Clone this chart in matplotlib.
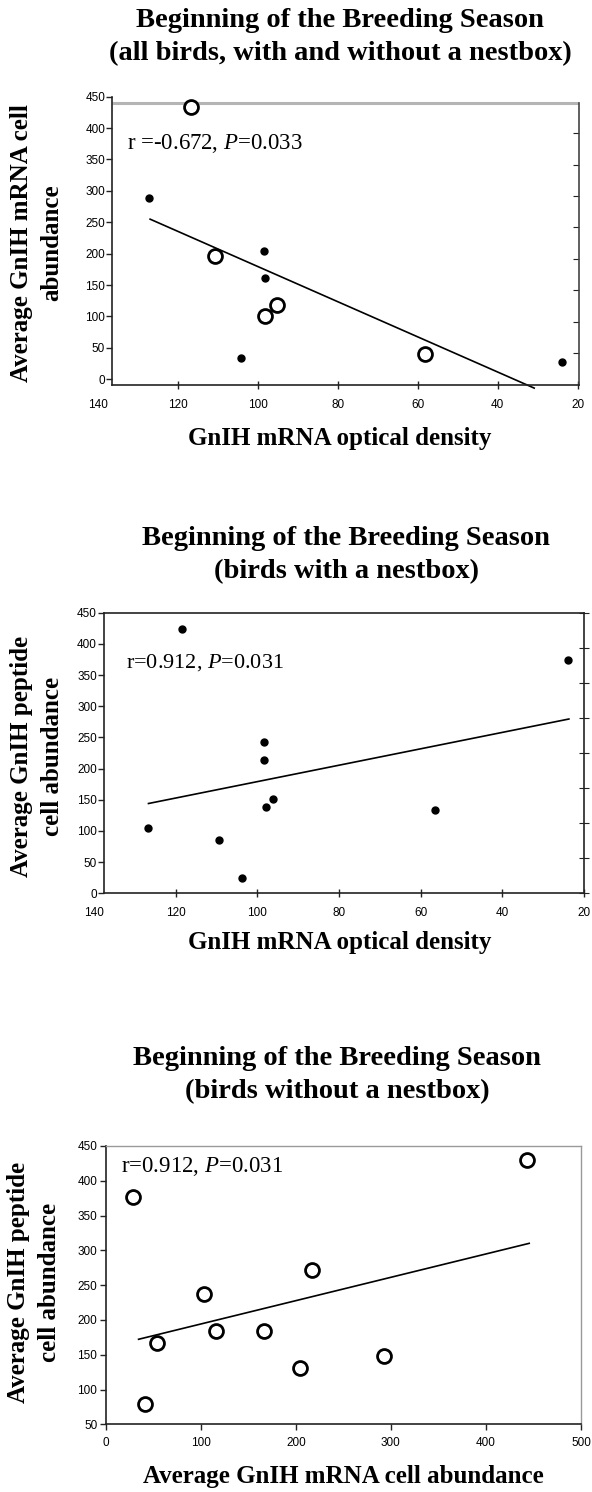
import matplotlib
matplotlib.use("Agg")
import matplotlib.pyplot as plt
import numpy as np

plt.rcParams['font.family'] = ['Liberation Sans', 'DejaVu Sans']
plt.rcParams['mathtext.fontset'] = 'custom'
plt.rcParams['mathtext.rm'] = 'Liberation Serif'
plt.rcParams['mathtext.it'] = 'Liberation Serif:italic'

# ---------------- data ----------------
# Panel 1: all birds (x = GnIH mRNA optical density, y = mRNA cell abundance)
p1_open_x = [116.8, 110.7, 98.3, 95.3, 58.3]
p1_open_y = [434, 196, 100, 119, 40]
p1_fill_x = [127.1, 98.4, 98.1, 104.1, 23.9]
p1_fill_y = [288, 205, 161, 34, 28]
p1_fit_x = [126.9, 30.9]
p1_fit_y = [255, -14]
p1_stat = "r =-0.672, $P$=0.033"

# Panel 2: birds with a nestbox
p2_x = [118.4, 23.9, 98.3, 98.3, 96.2, 98.0, 56.5, 126.9, 109.4, 103.9]
p2_y = [424, 374, 242, 214, 151, 139, 133, 105, 86, 24]
p2_fit_x = [126.7, 23.7]
p2_fit_y = [144, 279.5]
p2_stat = "r=0.912, $P$=0.031"

# Panel 3: birds without a nestbox
p3_x = [28.6, 443.5, 217.2, 103.8, 116.5, 167, 53.7, 292.8, 204, 41]
p3_y = [377, 430, 272, 237, 184, 184, 166.4, 148.2, 130.5, 78.7]
p3_fit_x = [34.6, 445.5]
p3_fit_y = [172.2, 310.1]
p3_stat = "r=0.912, $P$=0.031"

titles = ["Beginning of the Breeding Season\n(all birds, with and without a nestbox)",
          "Beginning of the Breeding Season\n(birds with a nestbox)",
          "Beginning of the Breeding Season\n(birds without a nestbox)"]
ylabels = ["Average GnIH mRNA cell\nabundance",
           "Average GnIH peptide\ncell abundance",
           "Average GnIH peptide\ncell abundance"]
xlabels = ["GnIH mRNA optical density",
           "GnIH mRNA optical density",
           "Average GnIH mRNA cell abundance"]
od_ticks = [140, 120, 100, 80, 60, 40, 20]
y_ticks_a = [0, 50, 100, 150, 200, 250, 300, 350, 400, 450]
y_ticks_c = [50, 100, 150, 200, 250, 300, 350, 400, 450]
x_ticks_c = [0, 100, 200, 300, 400, 500]

W, H = 592, 1492
fig = plt.figure(figsize=(W / 100, H / 100), dpi=100)

def px_axes(left, right, top, bottom):
    return fig.add_axes([left / W, 1 - bottom / H, (right - left) / W, (bottom - top) / H])

SERIF = 'Liberation Serif'
TICKFS = 8.5
AXCOL = '#222222'

def style_common(ax):
    ax.tick_params(labelsize=TICKFS, colors=AXCOL, labelcolor='black', width=1)
    for s in ax.spines.values():
        s.set_color(AXCOL)
        s.set_linewidth(1.2)

def fig_texts(i, title_y, xlabel_y, ylabel_x, ylabel_y, title_x=340, xlabel_x=340):
    fig.text(title_x / W, 1 - title_y / H, titles[i], ha='center', va='center',
             family=SERIF, weight='bold', fontsize=20.5, linespacing=1.45)
    fig.text(xlabel_x / W, 1 - xlabel_y / H, xlabels[i], ha='center', va='center',
             family=SERIF, weight='bold', fontsize=18)
    fig.text(ylabel_x / W, 1 - ylabel_y / H, ylabels[i], ha='center', va='center',
             rotation=90, family=SERIF, weight='bold', fontsize=18,
             linespacing=1.4, multialignment='center')

# ---------------- Panel 1 ----------------
ax1 = px_axes(97.7, 579, 96.7, 384.7)
ax1.set_xlim(140, 19.7)
ax1.set_ylim(-8.6, 450)
style_common(ax1)
ax1.spines['left'].set_position(('data', 136.4))
ax1.spines['bottom'].set_bounds(136.4, 19.7)
ax1.spines['top'].set_visible(False)
ax1.spines['right'].set_bounds(-8.6, 440)
ax1.spines['right'].set_color('#444444')
ax1.hlines(440, 136.4, 19.7, color='#b5b5b5', lw=2.2, zorder=1)
ax1.set_xticks(od_ticks)
ax1.set_yticks(y_ticks_a)
ax1.tick_params(axis='x', direction='inout', length=6, pad=7)
ax1.tick_params(axis='y', direction='out', length=4, pad=1)
ax1.xaxis.get_major_ticks()[0].tick1line.set_visible(False)
sec1 = ax1.secondary_yaxis('right', functions=(lambda y: y + 8, lambda y: y - 8))
sec1.set_yticks([50, 100, 150, 200, 250, 300, 350, 400])
sec1.tick_params(direction='in', length=4, labelright=False, colors=AXCOL)
sec1.spines['right'].set_visible(False)
ax1.plot(p1_fit_x, p1_fit_y, color='black', lw=1.2, clip_on=False, zorder=2)
ax1.plot(p1_fill_x, p1_fill_y, 'o', color='black', ms=5, clip_on=False, zorder=3)
ax1.plot(p1_open_x, p1_open_y, 'o', mfc='white', mec='black', mew=2, ms=10,
         clip_on=False, zorder=3)
ax1.text(132.8, 376, p1_stat, ha='left', va='center', family=SERIF, fontsize=16.5)
fig_texts(0, 37, 438, 37, 243)

# ---------------- Panel 2 ----------------
ax2 = px_axes(94.2, 584, 612.7, 893.3)
ax2.set_xlim(140, 20)
ax2.set_ylim(0, 450)
style_common(ax2)
ax2.spines['left'].set_position(('data', 137.6))
ax2.spines['bottom'].set_bounds(137.6, 20)
ax2.spines['top'].set_bounds(137.6, 20)
ax2.set_xticks(od_ticks)
ax2.set_yticks(y_ticks_a)
ax2.tick_params(axis='x', direction='inout', length=6, pad=7)
ax2.tick_params(axis='y', direction='out', length=4, pad=1)
ax2.xaxis.get_major_ticks()[0].tick1line.set_visible(False)
sec2 = ax2.secondary_yaxis('right')
sec2.set_yticks(np.linspace(0, 450, 9))
sec2.tick_params(direction='inout', length=7, labelright=False, colors=AXCOL)
sec2.spines['right'].set_visible(False)
ax2.plot(p2_fit_x, p2_fit_y, color='black', lw=1.2, zorder=2)
ax2.plot(p2_x, p2_y, 'o', color='black', ms=5, clip_on=False, zorder=3)
ax2.text(132.2, 370, p2_stat, ha='left', va='center', family=SERIF, fontsize=16)
fig_texts(1, 555, 942, 37, 756, title_x=346)

# ---------------- Panel 3 ----------------
ax3 = px_axes(105.7, 581, 1146, 1424.3)
ax3.set_xlim(0, 500)
ax3.set_ylim(50, 450)
style_common(ax3)
ax3.spines['top'].set_color('#9a9a9a')
ax3.spines['right'].set_color('#9a9a9a')
ax3.spines['top'].set_linewidth(1.0)
ax3.spines['right'].set_linewidth(1.0)
ax3.set_xticks(x_ticks_c)
ax3.set_yticks(y_ticks_c)
ax3.tick_params(axis='x', direction='out', length=4, pad=5)
ax3.tick_params(axis='y', direction='out', length=4, pad=2)
ax3.plot(p3_fit_x, p3_fit_y, color='black', lw=1.2, zorder=2)
ax3.plot(p3_x, p3_y, 'o', mfc='white', mec='black', mew=2, ms=10,
         clip_on=False, zorder=3)
ax3.text(15.9, 420, p3_stat, ha='left', va='center', family=SERIF, fontsize=16.5)
fig_texts(2, 1075, 1476.7, 34, 1282, title_x=337, xlabel_x=343)

fig.savefig('out.png', dpi=100)
